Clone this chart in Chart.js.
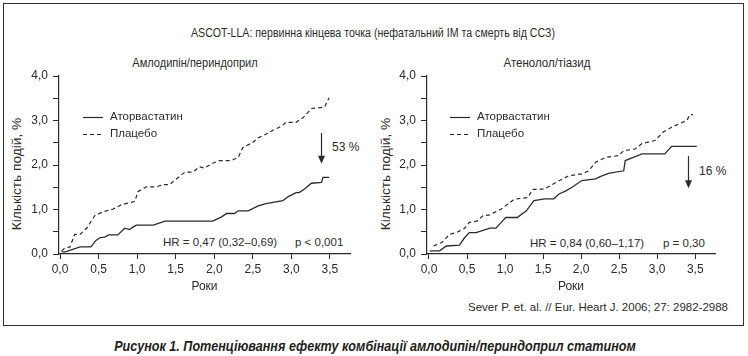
<!DOCTYPE html>
<html><head><meta charset="utf-8">
<script src="https://cdn.jsdelivr.net/npm/chart.js@4.4.1/dist/chart.umd.min.js"></script>
<style>
html,body{margin:0;padding:0;background:#fff;}
#wrap{position:relative;width:748px;height:356px;overflow:hidden;font-family:"Liberation Sans",Arial,sans-serif;color:#2b2b2b;}
#frame{position:absolute;left:3px;top:3px;width:739px;height:321px;border:1.5px solid #333;}
.t{position:absolute;white-space:nowrap;font-size:12px;line-height:14px;transform:translate(-50%,-50%);}
.l{position:absolute;white-space:nowrap;font-size:11.5px;line-height:14px;transform:translate(0,-50%);}
.r{position:absolute;white-space:nowrap;font-size:11.5px;line-height:14px;transform:translate(-100%,-50%);}
.yt{position:absolute;white-space:nowrap;font-size:12px;line-height:14px;transform:translate(-50%,-50%) rotate(-90deg) scaleX(1.14);}
canvas{position:absolute;}
#cap{position:absolute;left:375px;top:346px;transform:translate(-50%,-50%) scaleX(0.9);font-weight:bold;font-style:italic;font-size:14px;color:#231f20;white-space:nowrap;}
</style></head>
<body>
<div id="wrap">
<div id="frame"></div>
<div class="t" style="left:373px;top:33px;font-size:12.5px;transform:translate(-50%,-50%) scaleX(0.85);">ASCOT-LLA: первинна кінцева точка (нефатальний ІМ та смерть від ССЗ)</div>
<div class="t" style="left:195px;top:63px;transform:translate(-50%,-50%) scaleX(0.92);">Амлодипін/периндоприл</div>
<div class="t" style="left:547px;top:63px;transform:translate(-50%,-50%) scaleX(0.96);">Атенолол/тіазид</div>
<div class="yt" style="left:17px;top:174px;">Кількість подій, %</div>
<div class="yt" style="left:386px;top:174px;">Кількість подій, %</div>
<div class="l" style="left:163px;top:242px;">HR = 0,47 (0,32–0,69)</div>
<div class="l" style="left:295px;top:242px;">p &lt; 0,001</div>
<div class="l" style="left:530px;top:243px;">HR = 0,84 (0,60–1,17)</div>
<div class="l" style="left:663px;top:243px;">p = 0,30</div>
<div class="l" style="left:332px;top:147px;font-size:12px;">53 %</div>
<div class="l" style="left:699px;top:171px;font-size:12px;">16 %</div>
<div class="r" style="left:728px;top:307px;">Sever P. et. al. // Eur. Heart J. 2006; 27: 2982-2988</div>
<canvas id="c1" width="370" height="234" style="left:0px;top:60px;width:370px;height:234px;"></canvas>
<canvas id="c2" width="370" height="234" style="left:370px;top:60px;width:370px;height:234px;"></canvas>
<div id="cap">Рисунок 1. Потенціювання ефекту комбінації амлодипін/периндоприл статином</div>
</div>
<script>
// ---- data ----
const seriesNames = ['Аторвастатин', 'Плацебо'];
const xTicks = [0, 0.5, 1.0, 1.5, 2.0, 2.5, 3.0, 3.5];
const xTickLabels = ['0,0', '0,5', '1,0', '1,5', '2,0', '2,5', '3,0', '3,5'];
const yTicks = [0, 0.5, 1, 1.5, 2, 2.5, 3, 3.5, 4];
const yTickLabels = ['0,0', '', '1,0', '', '2,0', '', '3,0', '', '4,0'];

// Amlodipine/perindopril arm
const leftAtorX = [0.02, 0.07, 0.26, 0.40, 0.47, 0.52, 0.58, 0.63, 0.75, 0.84, 0.90, 0.95, 0.99, 1.21, 1.36, 1.98, 2.09, 2.16, 2.26, 2.31, 2.44, 2.57, 2.67, 2.89, 2.96, 3.06, 3.10, 3.17, 3.26, 3.39, 3.41, 3.49];
const leftAtorY = [0.05, 0.05, 0.16, 0.16, 0.31, 0.37, 0.38, 0.43, 0.43, 0.58, 0.55, 0.61, 0.65, 0.65, 0.74, 0.74, 0.83, 0.91, 0.91, 0.97, 0.97, 1.08, 1.13, 1.20, 1.29, 1.38, 1.38, 1.46, 1.59, 1.61, 1.72, 1.72];
const leftPlacX = [0.02, 0.06, 0.13, 0.19, 0.26, 0.35, 0.45, 0.56, 0.69, 0.80, 0.97, 1.01, 1.12, 1.25, 1.34, 1.42, 1.51, 1.62, 1.72, 1.81, 1.87, 1.98, 2.07, 2.22, 2.31, 2.37, 2.50, 2.57, 2.67, 2.76, 2.87, 2.93, 3.06, 3.15, 3.26, 3.43, 3.49];
const leftPlacY = [0.07, 0.13, 0.16, 0.44, 0.44, 0.59, 0.86, 0.95, 1.01, 1.11, 1.18, 1.40, 1.51, 1.51, 1.56, 1.56, 1.69, 1.84, 1.84, 1.96, 1.93, 2.04, 2.10, 2.10, 2.17, 2.39, 2.51, 2.61, 2.69, 2.78, 2.87, 2.96, 2.96, 3.06, 3.27, 3.30, 3.51];

// Atenolol/thiazide arm
const rightAtorX = [0.01, 0.14, 0.23, 0.40, 0.47, 0.53, 0.62, 0.80, 0.88, 0.95, 1.01, 1.16, 1.28, 1.38, 1.52, 1.64, 1.71, 1.80, 1.88, 2.01, 2.19, 2.25, 2.36, 2.56, 2.58, 2.67, 2.80, 3.10, 3.19, 3.52];
const rightAtorY = [0.07, 0.07, 0.18, 0.20, 0.37, 0.48, 0.48, 0.58, 0.58, 0.71, 0.82, 0.82, 0.97, 1.20, 1.24, 1.24, 1.35, 1.42, 1.50, 1.65, 1.69, 1.74, 1.81, 1.87, 2.10, 2.16, 2.25, 2.25, 2.42, 2.42];
const rightPlacX = [0.06, 0.17, 0.27, 0.36, 0.47, 0.53, 0.63, 0.71, 0.80, 0.95, 1.12, 1.30, 1.36, 1.52, 1.67, 1.84, 2.01, 2.10, 2.19, 2.32, 2.49, 2.56, 2.71, 2.80, 2.97, 3.08, 3.19, 3.39, 3.43, 3.47];
const rightPlacY = [0.18, 0.26, 0.44, 0.48, 0.58, 0.71, 0.74, 0.86, 0.88, 1.01, 1.23, 1.27, 1.45, 1.46, 1.61, 1.76, 1.80, 1.87, 2.06, 2.17, 2.21, 2.32, 2.36, 2.48, 2.55, 2.74, 2.85, 3.00, 3.13, 3.13];

// reduction arrows: [x, yFrom, yTo]
const leftArrow = [3.39, 2.72, 2.03];
const rightArrow = [3.41, 2.20, 1.48];

// ---- helpers ----
const INK = '#2b2b2b';
const FONT = "'Liberation Sans', Arial, sans-serif";
function pts(xs, ys) { return xs.map((x, i) => ({x: x, y: ys[i]})); }

const legendArrowPlugin = {
  id: 'legendArrow',
  afterDatasetsDraw(chart, args, opts) {
    const ctx = chart.ctx, ca = chart.chartArea;
    const xs = chart.scales.x, ys = chart.scales.y;
    ctx.save();
    // legend
    ctx.font = '11.5px ' + FONT;
    ctx.fillStyle = INK;
    ctx.textBaseline = 'middle';
    chart.data.datasets.forEach((ds, i) => {
      const y = ca.top + opts.legendY + i * 17;
      const x0 = ca.left + opts.legendX;
      ctx.strokeStyle = INK;
      ctx.lineWidth = 1.2;
      ctx.setLineDash(ds.borderDash || []);
      ctx.beginPath(); ctx.moveTo(x0, y + 0.5); ctx.lineTo(x0 + 20, y + 0.5); ctx.stroke();
      ctx.setLineDash([]);
      ctx.fillText(ds.label, x0 + 27, y);
    });
    // arrow
    const a = opts.arrow;
    const ax = Math.round(xs.getPixelForValue(a[0])) + 0.5;
    const y1 = ys.getPixelForValue(a[1]), y2 = ys.getPixelForValue(a[2]);
    ctx.strokeStyle = INK; ctx.lineWidth = 1.2;
    ctx.beginPath(); ctx.moveTo(ax, y1); ctx.lineTo(ax, y2 - 6); ctx.stroke();
    ctx.fillStyle = INK;
    ctx.beginPath(); ctx.moveTo(ax - 3.5, y2 - 8); ctx.lineTo(ax + 3.5, y2 - 8); ctx.lineTo(ax, y2); ctx.closePath(); ctx.fill();
    ctx.restore();
  }
};

function makeChart(id, atorX, atorY, placX, placY, xmin, xmax, yAxisW, padRight, arrow, legendX) {
  return new Chart(document.getElementById(id), {
    type: 'scatter',
    data: {
      datasets: [
        {label: seriesNames[0], data: pts(atorX, atorY), showLine: true, borderColor: INK, borderWidth: 1.3, pointRadius: 0, tension: 0, fill: false},
        {label: seriesNames[1], data: pts(placX, placY), showLine: true, borderColor: INK, borderWidth: 1.2, borderDash: [4, 3], pointRadius: 0, tension: 0, fill: false}
      ]
    },
    options: {
      responsive: false, animation: false, devicePixelRatio: 1,
      layout: {padding: {top: 16, right: padRight, left: 0, bottom: 0}},
      plugins: {legend: {display: false}, tooltip: {enabled: false},
        legendArrow: {legendY: 41, legendX: legendX, arrow: arrow}},
      scales: {
        x: {
          type: 'linear', min: xmin, max: xmax,
          afterBuildTicks: s => { s.ticks = xTicks.map(v => ({value: v})); },
          afterFit: s => { s.height = 40; },
          ticks: {color: INK, font: {family: FONT, size: 12}, padding: 3, maxRotation: 0, autoSkip: false,
            callback: (v) => { const i = xTicks.indexOf(v); return i >= 0 ? xTickLabels[i] : ''; }},
          grid: {drawOnChartArea: false, drawTicks: true, tickLength: 5, color: INK},
          border: {display: true, color: INK, width: 1.2},
          title: {display: true, text: 'Роки', color: INK, font: {family: FONT, size: 12}, padding: {top: 1, bottom: 0}}
        },
        y: {
          type: 'linear', min: 0, max: 4,
          afterBuildTicks: s => { s.ticks = yTicks.map(v => ({value: v})); },
          afterFit: s => { s.width = yAxisW; },
          ticks: {color: INK, font: {family: FONT, size: 12}, padding: 5, autoSkip: false,
            callback: (v) => { const i = yTicks.indexOf(v); return i >= 0 ? yTickLabels[i] : ''; }},
          grid: {drawOnChartArea: false, drawTicks: true, tickLength: 6, color: INK},
          border: {display: true, color: INK, width: 1.2},
          title: {display: false}
        }
      }
    },
    plugins: [legendArrowPlugin]
  });
}

makeChart('c1', leftAtorX, leftAtorY, leftPlacX, leftPlacY, -0.013, 3.76, 59, 20, leftArrow, 24);
makeChart('c2', rightAtorX, rightAtorY, rightPlacX, rightPlacY, -0.026, 3.76, 57, 25, rightArrow, 23);
</script>
</body></html>
